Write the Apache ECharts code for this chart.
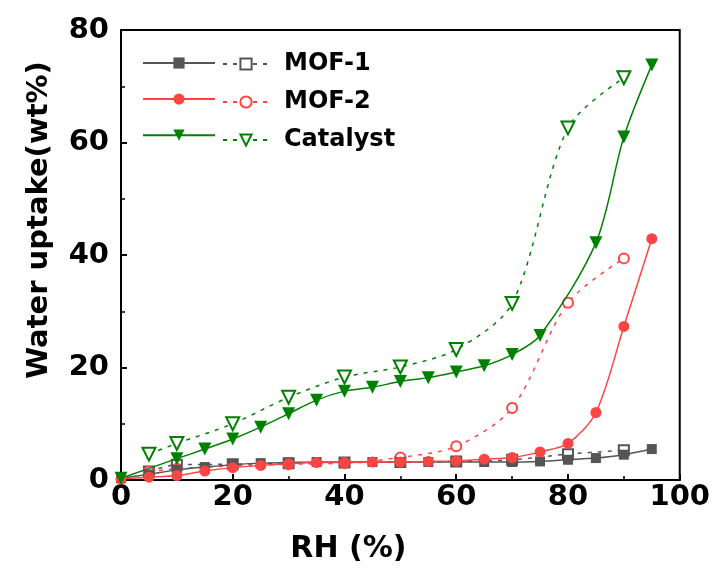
<!DOCTYPE html>
<html>
<head>
<meta charset="utf-8">
<script src="https://cdn.jsdelivr.net/npm/echarts@6/dist/echarts.min.js"></script>
<style>
  html, body { margin: 0; padding: 0; background: #fff; }
  #main { width: 713px; height: 569px; }
</style>
</head>
<body>
<div id="main"></div>
<script>
// RH (%) values
var rhFull = [0, 5, 10, 15, 20, 25, 30, 35, 40, 45, 50, 55, 60, 65, 70, 75, 80, 85, 90, 95];
var rhHalf = [5, 10, 20, 30, 40, 50, 60, 70, 80, 90];
var rhCat = [0, 10, 15, 20, 25, 30, 35, 40, 45, 50, 55, 60, 65, 70, 75, 85, 90, 95];

// water uptake (wt%)
var mof1Solid = [0.3, 1.0, 1.8, 2.3, 2.7, 3.0, 3.1, 3.2, 3.2, 3.2, 3.2, 3.2, 3.2, 3.2, 3.2, 3.3, 3.6, 3.9, 4.5, 5.5];
var mof1Open = [1.5, 2.7, 2.8, 3.0, 3.1, 3.2, 3.3, 3.6, 4.6, 5.3];
var mof2Solid = [0.2, 0.5, 0.8, 1.6, 2.2, 2.6, 2.9, 3.1, 3.1, 3.2, 3.2, 3.3, 3.4, 3.7, 4.0, 5.0, 6.5, 12.0, 27.3, 42.9];
var mof2Open = [1.5, 2.0, 2.5, 2.8, 3.0, 4.0, 6.0, 12.8, 31.5, 39.4];
var catSolid = [0.3, 3.8, 5.5, 7.3, 9.4, 11.8, 14.2, 15.8, 16.5, 17.5, 18.2, 19.2, 20.3, 22.3, 25.7, 42.2, 61.0, 73.8];
var catOpen = [4.6, 6.5, 10.0, 14.7, 18.3, 20.1, 23.2, 31.4, 62.6, 71.5];

var names = ["MOF-1", "MOF-2", "Catalyst"];
var colors = ["#555555", "#ff4444", "#008000"];

function pairs(xs, ys) {
  return xs.map(function (x, i) { return [x, ys[i]]; });
}

var FONT = "DejaVu Sans";

function solidSeries(name, color, xs, ys, symbol, size, rot) {
  return {
    name: name,
    type: "line",
    smooth: 0.3,
    data: pairs(xs, ys),
    symbol: symbol,
    symbolSize: size,
    symbolRotate: rot || 0,
    lineStyle: { color: color, width: 1.5 },
    itemStyle: { color: color },
    z: 3
  };
}
function openSeries(name, color, xs, ys, symbol, size, rot) {
  return {
    name: name,
    type: "line",
    smooth: 0.3,
    data: pairs(xs, ys),
    symbol: symbol,
    symbolSize: size,
    symbolRotate: rot || 0,
    lineStyle: { color: color, width: 1.5, type: [4, 6] },
    itemStyle: { color: color, borderColor: color, borderWidth: 1.5 },
    z: 2
  };
}

var series = [
  solidSeries(names[0], colors[0], rhFull, mof1Solid, "rect", 10),
  openSeries(names[0] + " ", colors[0], rhHalf, mof1Open, "emptyRect", 10),
  solidSeries(names[1], colors[1], rhFull, mof2Solid, "circle", 11),
  openSeries(names[1] + " ", colors[1], rhHalf, mof2Open, "emptyCircle", 10),
  solidSeries(names[2], colors[2], rhCat, catSolid, "triangle", 13, 180),
  openSeries(names[2] + " ", colors[2], rhHalf, catOpen, "emptyTriangle", 13, 180)
];

var myChart = echarts.init(document.getElementById("main"));

var option = {
  backgroundColor: "#fff",
  animation: false,
  grid: {
    left: 121, right: 33, top: 30, bottom: 88,
    show: true, borderColor: "#000", borderWidth: 2, backgroundColor: "transparent"
  },
  legend: [
    {
      left: 137, top: 51, orient: "vertical",
      itemWidth: 72, itemHeight: 14, itemGap: 23.5,
      data: names,
      formatter: function () { return ""; },
      textStyle: { fontSize: 1 }
    },
    {
      left: 217, top: 47, orient: "vertical",
      itemWidth: 46, itemHeight: 14, itemGap: 14,
      data: names.map(function (n) { return n + " "; }),
      formatter: function (n) { return n.trim(); },
      textStyle: { fontSize: 24, fontWeight: "bold", color: "#000", fontFamily: FONT, padding: [0, 0, 0, 10] }
    }
  ],
  xAxis: {
    type: "value",
    min: 0, max: 100, interval: 20,
    name: "RH (%)",
    nameLocation: "middle",
    nameGap: 54,
    nameTextStyle: { fontSize: 30, fontWeight: "bold", color: "#000", fontFamily: FONT, padding: [0, 104, 0, 0] },
    axisLine: { lineStyle: { color: "#000", width: 2 } },
    axisTick: { inside: true, length: 6, lineStyle: { color: "#000", width: 2 } },
    minorTick: { show: true, splitNumber: 2, length: 4, lineStyle: { color: "#000", width: 1.5 } },
    splitLine: { show: false },
    axisLabel: { fontSize: 29, fontWeight: "bold", color: "#000", fontFamily: FONT, margin: 3 }
  },
  yAxis: {
    type: "value",
    min: 0, max: 80, interval: 20,
    name: "Water uptake(wt%)",
    nameLocation: "middle",
    nameGap: 67,
    nameTextStyle: { fontSize: 29, fontWeight: "bold", color: "#000", fontFamily: FONT, padding: [0, 0, 0, 70] },
    axisLine: { lineStyle: { color: "#000", width: 2 } },
    axisTick: { inside: true, length: 6, lineStyle: { color: "#000", width: 2 } },
    minorTick: { show: true, splitNumber: 2, length: 4, lineStyle: { color: "#000", width: 1.5 } },
    splitLine: { show: false },
    axisLabel: { fontSize: 29, fontWeight: "bold", color: "#000", fontFamily: FONT, margin: 12 }
  },
  series: series
};

myChart.setOption(option);
</script>
</body>
</html>
